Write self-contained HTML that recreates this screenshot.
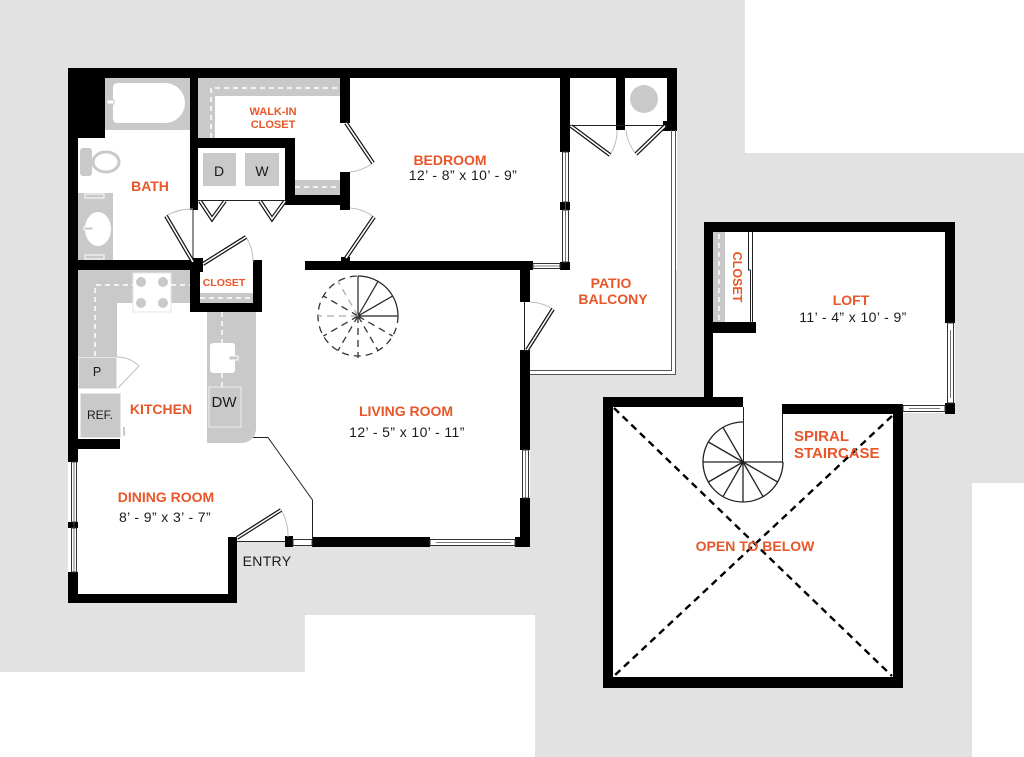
<!DOCTYPE html>
<html>
<head>
<meta charset="utf-8">
<style>
  html,body{margin:0;padding:0;background:#fff;}
  svg{display:block;}
  .lbl{font-family:"Liberation Sans",Arial,sans-serif;font-weight:bold;fill:#e8562a;text-anchor:middle;}
  .dim{font-family:"Liberation Sans",Arial,sans-serif;fill:#1a1a1a;text-anchor:middle;font-size:14px;letter-spacing:0.4px;}
  .blk{font-family:"Liberation Sans",Arial,sans-serif;fill:#1a1a1a;text-anchor:middle;}
</style>
</head>
<body>
<svg width="1024" height="757" viewBox="0 0 1024 757" xmlns="http://www.w3.org/2000/svg">
  <!-- background -->
  <rect x="0" y="0" width="1024" height="757" fill="#fff"/>
  <path d="M0,0 H745 V153 H1024 V483 H972 V757 H535 V615 H305 V672 H0 Z" fill="#e2e2e2"/>

  <!-- white interiors -->
  <g fill="#fff">
    <rect x="68" y="68" width="609" height="202"/>
    <rect x="68" y="270" width="462" height="271"/>
    <rect x="530" y="270" width="146" height="105"/>
    <rect x="68" y="541" width="169" height="62"/>
    <rect x="704" y="222" width="251" height="191"/>
    <rect x="603" y="397" width="300" height="291"/>
  </g>

  <!-- fixtures (gray) -->
  <g fill="#c9c9c9">
    <!-- tub -->
    <rect x="105" y="78" width="85" height="52"/>
    <!-- toilet tank -->
    <rect x="80" y="148" width="12" height="28" rx="3"/>
    <!-- vanity -->
    <rect x="78" y="193" width="35" height="67"/>
    <!-- walk-in shelves -->
    <path d="M198,78 H340 V96 H215 V138 H198 Z"/>
    <rect x="295" y="180" width="45" height="15"/>
    <!-- D W -->
    <rect x="203" y="153" width="33" height="33"/>
    <rect x="245" y="153" width="34" height="33"/>
    <!-- kitchen counters -->
    <path d="M78,270 H190 V303 H117 V357 H78 Z"/>
    <rect x="78" y="357" width="39" height="32"/>
    <rect x="80" y="393" width="41" height="45"/>
    <path d="M207,312 H256 V429 A14,14 0 0 1 242,443 H207 Z"/>
    <rect x="200" y="293" width="53" height="10"/>
    <rect x="123" y="427" width="2" height="9"/>
    <!-- loft closet shelf -->
    <rect x="713" y="232" width="12" height="90"/>
  </g>
  <!-- water heater -->
  <circle cx="644" cy="99" r="14" fill="#c9c9c9"/>

  <!-- fixture whites -->
  <path d="M118,83 H165 A20,20 0 0 1 165,123 H118 Q113,123 113,118 V88 Q113,83 118,83 Z" fill="#fff"/>
  <rect x="107" y="100" width="7" height="4" fill="#fff" stroke="#c9c9c9" stroke-width="1"/>
  <ellipse cx="106" cy="162" rx="13" ry="10" fill="#fff" stroke="#c9c9c9" stroke-width="3"/>
  <ellipse cx="98" cy="229" rx="13" ry="17" fill="#fff"/>
  <rect x="84" y="227" width="9" height="3" fill="#c9c9c9" stroke="#fff" stroke-width="1"/>
  <rect x="85" y="194" width="19" height="4" fill="none" stroke="#fff" stroke-width="1"/>
  <rect x="85" y="255" width="19" height="4" fill="none" stroke="#fff" stroke-width="1"/>
  <rect x="133" y="273" width="38" height="39" fill="#fff" stroke="#e6e6e6" stroke-width="1"/>
  <g fill="#c9c9c9">
    <circle cx="141" cy="282" r="5"/><circle cx="163" cy="282" r="5"/>
    <circle cx="141" cy="303" r="5"/><circle cx="163" cy="303" r="5"/>
  </g>
  <rect x="210" y="343" width="25" height="30" rx="3" fill="#fff"/>
  <rect x="229" y="356" width="9" height="4" fill="#c9c9c9" stroke="#fff" stroke-width="1"/>
  <rect x="209" y="387" width="32" height="40" fill="none" stroke="#eee" stroke-width="1"/>
  <rect x="78.5" y="357.5" width="38" height="31" fill="none" stroke="#e6e6e6" stroke-width="1"/>
  <rect x="80.5" y="393.5" width="40" height="44" fill="none" stroke="#e6e6e6" stroke-width="1"/>

  <!-- dashed white shelf lines -->
  <g fill="none" stroke="#fff" stroke-width="1.5" stroke-dasharray="5 4">
    <path d="M211,138 V88 H340"/>
    <path d="M295,187 H340"/>
    <path d="M95,356 V285 H133"/>
    <path d="M171,285 H190"/>
    <path d="M200,298 H253"/>
    <path d="M222,312 V343"/>
    <path d="M222,373 V387"/>
    <path d="M719,234 V322"/>
  </g>

  <!-- walls -->
  <g fill="#000">
    <rect x="68" y="68" width="609" height="10"/>
    <rect x="68" y="68" width="10" height="394"/>
    <rect x="68" y="572" width="10" height="31"/>
    <rect x="68" y="522" width="10" height="6"/>
    <rect x="68" y="68" width="37" height="70"/>
    <rect x="190" y="68" width="8" height="142"/>
    <rect x="198" y="138" width="97" height="10"/>
    <rect x="285" y="138" width="10" height="67"/>
    <rect x="285" y="195" width="65" height="10"/>
    <rect x="340" y="68" width="10" height="55"/>
    <rect x="340" y="172" width="10" height="38"/>
    <rect x="68" y="260" width="135" height="10"/>
    <rect x="190" y="258" width="13" height="14"/>
    <rect x="190" y="260" width="10" height="52"/>
    <rect x="190" y="303" width="72" height="9"/>
    <rect x="253" y="260" width="9" height="52"/>
    <rect x="305" y="261" width="228" height="9"/>
    <rect x="341" y="257" width="9" height="6"/>
    <rect x="560" y="68" width="10" height="84"/>
    <rect x="560" y="202" width="10" height="8"/>
    <rect x="560" y="262" width="10" height="8"/>
    <rect x="616" y="68" width="9" height="62"/>
    <rect x="667" y="68" width="10" height="62"/>
    <rect x="663" y="121" width="14" height="10"/>
    <rect x="520" y="270" width="10" height="32"/>
    <rect x="520" y="350" width="10" height="100"/>
    <rect x="520" y="498" width="10" height="49"/>
    <rect x="312" y="537" width="118" height="10"/>
    <rect x="515" y="537" width="15" height="10"/>
    <rect x="285" y="536" width="8" height="11"/>
    <rect x="228" y="537" width="9" height="66"/>
    <rect x="68" y="594" width="169" height="9"/>
    <rect x="68" y="439" width="52" height="10"/>
    <!-- loft -->
    <rect x="704" y="222" width="251" height="10"/>
    <rect x="704" y="222" width="9" height="185"/>
    <rect x="945" y="222" width="10" height="101"/>
    <rect x="945" y="403" width="10" height="11"/>
    <rect x="713" y="322" width="43" height="11"/>
    <!-- open to below box -->
    <rect x="603" y="397" width="140" height="10"/>
    <rect x="782" y="404" width="121" height="10"/>
    <rect x="603" y="397" width="10" height="291"/>
    <rect x="893" y="404" width="10" height="284"/>
    <rect x="603" y="677" width="300" height="11"/>
  </g>

  <!-- windows -->
  <g fill="#fff" stroke="#333" stroke-width="1">
    <rect x="71.5" y="462" width="5" height="60"/>
    <rect x="71.5" y="528" width="5" height="44"/>
    <rect x="562.5" y="152" width="6" height="50"/>
    <rect x="562.5" y="210" width="6" height="52"/>
    <rect x="533" y="263.5" width="27" height="5"/>
    <rect x="522.5" y="450" width="6" height="48"/>
    <rect x="430" y="539.5" width="85" height="6"/>
    <rect x="293" y="539.5" width="19" height="6"/>
    <rect x="947.5" y="323" width="6" height="80"/>
    <rect x="903" y="405.5" width="42" height="6"/>
  </g>
  <g stroke="#555" stroke-width="0.8">
    <line x1="74" y1="462" x2="74" y2="572"/>
    <line x1="565.5" y1="152" x2="565.5" y2="262"/>
    <line x1="533" y1="266" x2="560" y2="266"/>
    <line x1="525.5" y1="450" x2="525.5" y2="498"/>
    <line x1="436" y1="542.5" x2="511" y2="542.5"/>
    <line x1="950.5" y1="330" x2="950.5" y2="398"/>
    <line x1="909" y1="408.5" x2="940" y2="408.5"/>
  </g>

  <!-- patio railing -->
  <g fill="none" stroke="#555" stroke-width="1">
    <path d="M671.5,130 V370.5 H530"/>
    <path d="M675.5,130 V374.5 H530"/>
  </g>

  <!-- thin lines (thresholds etc) -->
  <g stroke="#222" stroke-width="1" fill="none">
    <line x1="193" y1="210" x2="193" y2="260"/>
    <line x1="198" y1="200.5" x2="285" y2="200.5"/>
    <line x1="570" y1="125.5" x2="667" y2="125.5"/>
    <line x1="524.5" y1="302" x2="524.5" y2="350"/>
    <line x1="237" y1="541.5" x2="285" y2="541.5"/>
    <polyline points="253,437.5 268,437.5 312.5,500 312.5,541"/>
    <line x1="743.5" y1="407" x2="743.5" y2="462"/>
    <line x1="782.5" y1="414" x2="782.5" y2="462"/>
    <path d="M748.5,232 V270 H750.5 V322"/>
    <path d="M752.5,232 V322"/>
  </g>

  <!-- door swing arcs -->
  <g fill="none" stroke="#bdbdbd" stroke-width="1">
    <path d="M166,216 A50,50 0 0 1 193,209"/>
    <path d="M246,237 A45,45 0 0 1 253,262"/>
    <path d="M373,163 A46,46 0 0 1 350,172"/>
    <path d="M374,217 A46,46 0 0 0 350,208"/>
    <path d="M610,155 A46,46 0 0 0 617,130"/>
    <path d="M636,154 A46,46 0 0 1 626,130"/>
    <path d="M553,309 A48,48 0 0 0 530,302"/>
    <path d="M281,510 A50,50 0 0 1 288,537"/>
    <path d="M117,357 A32,32 0 0 1 139,366"/>
    <line x1="139" y1="366" x2="118" y2="388"/>
  </g>

  <!-- doors (double lines) -->
  <g fill="none" stroke="#111" stroke-width="4" stroke-linecap="butt">
    <line x1="193" y1="262" x2="166" y2="216"/>
    <line x1="203" y1="264" x2="246" y2="237"/>
    <line x1="346" y1="123" x2="373" y2="163"/>
    <line x1="346" y1="258" x2="374" y2="217"/>
    <line x1="571" y1="126" x2="610" y2="155"/>
    <line x1="665" y1="126" x2="636" y2="154"/>
    <line x1="527" y1="350" x2="553" y2="309"/>
    <line x1="237" y1="538" x2="281" y2="510"/>
    <polyline points="200,201 212,219 225,201"/>
    <polyline points="260,201 272,219 285,201"/>
  </g>
  <g fill="none" stroke="#fff" stroke-width="1.6" stroke-linecap="butt">
    <line x1="193" y1="262" x2="166" y2="216"/>
    <line x1="203" y1="264" x2="246" y2="237"/>
    <line x1="346" y1="123" x2="373" y2="163"/>
    <line x1="346" y1="258" x2="374" y2="217"/>
    <line x1="571" y1="126" x2="610" y2="155"/>
    <line x1="665" y1="126" x2="636" y2="154"/>
    <line x1="527" y1="350" x2="553" y2="309"/>
    <line x1="237" y1="538" x2="281" y2="510"/>
    <polyline points="200,201 212,219 225,201"/>
    <polyline points="260,201 272,219 285,201"/>
  </g>

  <!-- living room spiral stair (dashed, below) -->
  <g fill="none" stroke="#222" stroke-width="1.2">
    <path d="M358,276 A40,40 0 0 1 398,316"/>
    <line x1="358" y1="316" x2="358" y2="276"/>
    <line x1="358" y1="316" x2="378" y2="281.4"/>
    <line x1="358" y1="316" x2="392.6" y2="296"/>
    <line x1="358" y1="316" x2="398" y2="316"/>
  </g>
  <g fill="none" stroke="#333" stroke-width="1.3" stroke-dasharray="7 5">
    <path d="M398,316 A40,40 0 1 1 358,276"/>
    <line x1="358" y1="316" x2="392.6" y2="336"/>
    <line x1="358" y1="316" x2="378" y2="350.6"/>
    <line x1="358" y1="316" x2="358" y2="358"/>
    <line x1="358" y1="316" x2="338" y2="350.6"/>
    <line x1="358" y1="316" x2="323.4" y2="336"/>
    <line x1="358" y1="316" x2="318" y2="316" stroke="#aaa"/>
    <line x1="358" y1="316" x2="323.4" y2="296"/>
    <line x1="358" y1="316" x2="338" y2="281.4" stroke="#aaa"/>
  </g>

  <!-- loft spiral stair -->
  <g fill="none" stroke="#222" stroke-width="1.3">
    <path d="M743,422 A40,40 0 1 0 783,462"/>
    <line x1="743" y1="462" x2="783" y2="462"/>
    <line x1="743" y1="462" x2="777.6" y2="482"/>
    <line x1="743" y1="462" x2="763" y2="496.6"/>
    <line x1="743" y1="462" x2="743" y2="502"/>
    <line x1="743" y1="462" x2="723" y2="496.6"/>
    <line x1="743" y1="462" x2="708.4" y2="482"/>
    <line x1="743" y1="462" x2="703" y2="462"/>
    <line x1="743" y1="462" x2="708.4" y2="442"/>
    <line x1="743" y1="462" x2="723" y2="427.4"/>
  </g>

  <!-- open to below X -->
  <g stroke="#000" stroke-width="2.4" stroke-dasharray="7 5" fill="none">
    <line x1="614" y1="408" x2="892" y2="676"/>
    <line x1="892" y1="416" x2="614" y2="676"/>
  </g>

  <!-- labels -->
  <text class="lbl" x="273" y="115" font-size="11">WALK-IN</text>
  <text class="lbl" x="273" y="128" font-size="11">CLOSET</text>
  <text class="blk" x="219" y="176" font-size="14">D</text>
  <text class="blk" x="262" y="176" font-size="14">W</text>
  <text class="lbl" x="150" y="191" font-size="14">BATH</text>
  <text class="lbl" x="224" y="286" font-size="10.5">CLOSET</text>
  <text class="lbl" x="450" y="165" font-size="14">BEDROOM</text>
  <text class="dim" x="463" y="180">12’ - 8” x 10’ - 9”</text>
  <text class="lbl" x="611" y="288" font-size="14">PATIO</text>
  <text class="lbl" x="613" y="304" font-size="14">BALCONY</text>
  <text class="blk" x="97" y="376" font-size="12.5">P</text>
  <text class="blk" x="100" y="419" font-size="12">REF.</text>
  <text class="lbl" x="161" y="414" font-size="14">KITCHEN</text>
  <text class="blk" x="224" y="407" font-size="15">DW</text>
  <text class="lbl" x="406" y="416" font-size="14">LIVING ROOM</text>
  <text class="dim" x="407" y="437">12’ - 5” x 10’ - 11”</text>
  <text class="lbl" x="166" y="502" font-size="14">DINING ROOM</text>
  <text class="dim" x="165" y="522">8’ - 9” x 3’ - 7”</text>
  <text class="blk" x="267" y="566" font-size="14" style="letter-spacing:0.3px">ENTRY</text>
  <text class="lbl" x="0" y="0" font-size="12.5" transform="translate(733,277) rotate(90)">CLOSET</text>
  <text class="lbl" x="851" y="305" font-size="14">LOFT</text>
  <text class="dim" x="853" y="322">11’ - 4” x 10’ - 9”</text>
  <text class="lbl" x="794" y="441" font-size="15" style="text-anchor:start">SPIRAL</text>
  <text class="lbl" x="794" y="458" font-size="15" style="text-anchor:start">STAIRCASE</text>
  <text class="lbl" x="755" y="551" font-size="14">OPEN TO BELOW</text>
</svg>
</body>
</html>
